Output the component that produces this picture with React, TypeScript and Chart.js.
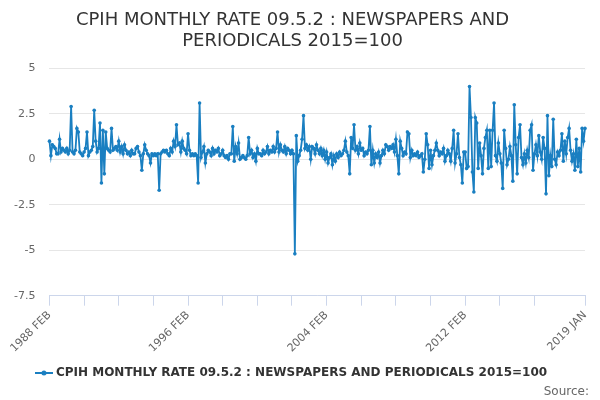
import React, { useEffect, useRef } from "react";
import Chart from "chart.js/auto";

const MONTHS = ["JAN", "FEB", "MAR", "APR", "MAY", "JUN", "JUL", "AUG", "SEP", "OCT", "NOV", "DEC"];

// 1988 FEB - 1996 JAN
const rates1988 = [
  1.0, 0.2, 0.8, 0.7, 0.6, 0.3, 0.3, 1.1, 0.4, 0.6, 0.5, 0.4,
  0.6, 0.3, 0.5, 2.9, 0.4, 0.3, 0.5, 1.7, 1.5, 0.4, 0.3, 0.2,
  0.4, 0.6, 1.5, 0.2, 0.4, 0.5, 0.7, 2.7, 1.0, 0.4, 0.6, 2.0,
  -1.3, 1.6, -0.8, 1.5, 0.6, 0.5, 0.4, 1.7, 0.5, 0.6, 0.7, 0.5,
  1.0, 0.4, 0.7, 0.3, 0.8, 0.5, 0.3, 0.4, 0.2, 0.5, 0.3, 0.3,
  0.6, 0.7, 0.4, 0.2, -0.6, 0.3, 0.8, 0.5, 0.3, 0.2, -0.2, 0.3,
  0.2, 0.3, 0.2, 0.3, -1.7, 0.3, 0.4, 0.5, 0.4, 0.5, 0.3, 0.2,
  0.6, 0.4, 1.0, 0.7, 1.9, 0.8, 0.9, 0.4, 1.0, 0.6, 0.5, 0.3,
];

// 1996 FEB - 2004 JAN
const rates1996 = [
  1.4, 0.5, 0.2, 0.3, 0.2, 0.3, 0.2, -1.3, 3.1, 0.1, 0.4, 0.7,
  -0.2, 0.3, 0.5, 0.4, 0.2, 0.6, 0.3, 0.5, 0.4, 0.6, 0.2, 0.3,
  0.5, 0.2, 0.1, 0.2, 0.0, 0.3, 0.3, 1.8, -0.1, 0.7, 0.3, 0.9,
  0.0, 0.1, 0.2, 0.1, 0.0, 0.2, 1.2, 0.3, 0.5, 0.1, 0.3, -0.1,
  0.6, 0.3, 0.3, 0.2, 0.5, 0.3, 0.4, 0.7, 0.3, 0.5, 0.4, 0.7,
  0.4, 0.6, 1.5, 0.4, 0.8, 0.5, 0.4, 0.7, 0.3, 0.6, 0.5, 0.3,
  0.5, 0.3, -5.2, 1.3, -0.1, 0.2, 0.5, 1.1, 2.4, 0.6, 0.8, 0.5,
  0.7, 0.0, 0.7, 0.6, 0.3, 0.8, 0.5, 0.3, 0.6, 0.2, 0.5, 0.0,
];

// 2004 FEB - 2012 JAN
const rates2004 = [
  0.4, -0.2, 0.1, 0.3, -0.3, 0.2, -0.1, 0.3, 0.1, 0.4, 0.2, 0.3,
  0.5, 1.0, 0.4, 0.2, -0.8, 1.2, 0.6, 1.9, 0.5, 0.7, 0.3, 0.9,
  0.5, 0.6, 0.2, 0.4, 0.3, 0.5, 1.8, -0.3, 0.5, -0.2, 0.3, 0.1,
  0.4, -0.2, 0.2, 0.5, 0.3, 0.8, 0.7, 0.5, 0.7, 0.6, 0.8, 0.4,
  1.1, 0.2, -0.8, 1.0, 0.6, 0.2, 0.4, 0.3, 1.5, 1.4, 0.1, 0.5,
  0.2, 0.3, 0.2, 0.4, 0.1, 0.2, 0.3, -0.7, 0.0, 1.4, 0.8, -0.5,
  0.5, -0.3, 0.2, 0.5, 0.9, 0.5, 0.2, 0.4, 0.3, 0.6, -0.1, 0.2,
  0.5, 0.3, -0.1, 0.6, 1.6, -0.2, 0.3, 1.4, 0.1, -0.3, -1.3, 0.4,
];

// 2012 FEB - 2019 JAN
const rates2012 = [
  0.4, -0.5, -0.4, 4.0, 2.3, -0.7, -1.8, 2.3, 2.0, -0.5, 0.9, 0.2,
  -0.8, 0.6, 1.2, 1.6, -0.5, 1.6, -0.4, 1.6, 3.1, 0.2, -0.1, 0.9,
  0.3, -0.2, -1.6, 1.6, 0.6, -0.3, 0.0, 0.7, 0.2, -1.2, 3.0, 0.8,
  -0.8, 1.2, 1.9, 0.1, -0.3, 0.3, -0.2, 0.5, 0.1, 1.6, 1.9, -0.6,
  0.3, 0.8, 0.2, 1.3, 0.4, 0.0, 1.2, 0.6, -1.9, 2.4, -0.9, 0.2,
  -0.4, 2.2, 0.0, -0.3, 0.4, 0.2, 0.5, 1.4, -0.1, 1.0, 0.3, 1.2,
  1.7, 0.5, -0.1, 0.3, -0.6, 1.1, -0.4, 0.6, -0.7, 1.7, 1.0, 1.7,
];

const values = [...rates1988, ...rates1996, ...rates2004, ...rates2012];

const labels: string[] = values.map((_, i) => {
  const m = 1 + i; // starts at FEB 1988
  return `${1988 + Math.floor(m / 12)} ${MONTHS[m % 12]}`;
});

const SERIES = "CPIH MONTHLY RATE 09.5.2 : NEWSPAPERS AND PERIODICALS 2015=100";
const BLUE = "#1a7fc1";

// legend marker: short line with a dot in the middle
function makeMarker(): HTMLCanvasElement {
  const c = document.createElement("canvas");
  c.width = 18;
  c.height = 8;
  const g = c.getContext("2d")!;
  g.strokeStyle = BLUE;
  g.lineWidth = 2;
  g.beginPath();
  g.moveTo(0, 4);
  g.lineTo(18, 4);
  g.stroke();
  g.fillStyle = BLUE;
  g.beginPath();
  g.arc(9, 4, 2.5, 0, Math.PI * 2);
  g.fill();
  return c;
}

const LineChart: React.FC = () => {
  const chartRef = useRef<HTMLCanvasElement | null>(null);
  const chartInstance = useRef<Chart<"line", number[], string> | null>(null);

  useEffect(() => {
    if (chartInstance.current) {
      chartInstance.current.destroy();
    }
    const last = labels.length - 1;
    const isLabelled = (i: number) => i % 96 === 0 || i === last;
    const hasTick = (i: number) => (i % 24 === 0 && i < last - 12) || i === last;
    const marker = makeMarker();

    if (chartRef.current) {
      chartInstance.current = new Chart(chartRef.current, {
        type: "line",
        data: {
          labels,
          datasets: [
            {
              label: SERIES,
              data: values,
              borderColor: BLUE,
              backgroundColor: BLUE,
              borderWidth: 1.8,
              pointRadius: 1.8,
              pointBackgroundColor: BLUE,
              pointBorderWidth: 0,
              tension: 0,
            },
          ],
        },
        options: {
          animation: false,
          responsive: true,
          maintainAspectRatio: false,
          layout: { padding: { left: 0, right: 15, top: 6, bottom: 11 } },
          plugins: {
            title: {
              display: true,
              text: ["CPIH MONTHLY RATE 09.5.2 : NEWSPAPERS AND", "PERIODICALS 2015=100"],
              color: "#333",
              font: { family: "DejaVu Sans", size: 18, weight: "normal", lineHeight: 1.15 },
              padding: { top: 4, bottom: 17 },
            },
            legend: {
              position: "bottom",
              labels: {
                color: "#333",
                font: { family: "DejaVu Sans", size: 12, weight: "bold" },
                usePointStyle: true,
                padding: 9,
                generateLabels: (chart) =>
                  Chart.defaults.plugins.legend.labels
                    .generateLabels(chart)
                    .map((l) => ({ ...l, pointStyle: marker })),
              },
            },
            tooltip: { enabled: false },
          },
          scales: {
            x: {
              ticks: {
                autoSkip: false,
                minRotation: 45,
                maxRotation: 45,
                color: "#666",
                font: { family: "DejaVu Sans", size: 11 },
                callback: (_v, i) => (isLabelled(i) ? labels[i] : ""),
              },
              grid: {
                drawOnChartArea: false,
                drawTicks: true,
                tickLength: 10,
                color: (ctx) => (hasTick(ctx.index) ? "#ccd6eb" : "transparent"),
              },
              border: { color: "#ccd6eb" },
            },
            y: {
              min: -7.5,
              max: 5,
              ticks: {
                stepSize: 2.5,
                color: "#666",
                font: { family: "DejaVu Sans", size: 11 },
                padding: 14,
              },
              grid: { color: "#e6e6e6", drawTicks: false },
              border: { display: false },
            },
          },
        },
      });
    }

    return () => {
      if (chartInstance.current) {
        chartInstance.current.destroy();
      }
    };
  }, []);

  return <canvas ref={chartRef}></canvas>;
};

export default function App() {
  return (
    <div style={{ position: "fixed", left: 0, top: 0, width: 600, height: 400, background: "#fff" }}>
      <LineChart />
      <div
        style={{
          position: "absolute",
          right: 11,
          bottom: 2,
          fontFamily: "DejaVu Sans",
          fontSize: 12,
          color: "#666",
        }}
      >
        Source:
      </div>
    </div>
  );
}
